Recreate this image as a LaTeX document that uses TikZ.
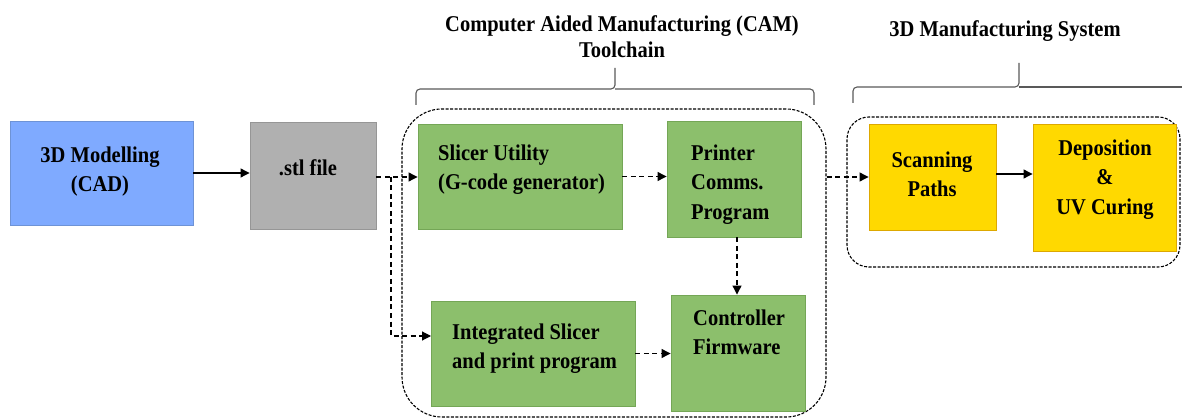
\documentclass[tikz,border=0pt]{standalone}
\usepackage{fontspec}
\setmainfont{Liberation Serif}
\usetikzlibrary{arrows.meta}

\definecolor{cadblue}{HTML}{7FAAFF}
\definecolor{cadedge}{HTML}{6E93D6}
\definecolor{stlgray}{HTML}{B0B0B0}
\definecolor{stledge}{HTML}{969696}
\definecolor{camgreen}{HTML}{8CBF6C}
\definecolor{camedge}{HTML}{74A656}
\definecolor{sysyellow}{HTML}{FFD900}
\definecolor{sysedge}{HTML}{DDA800}

% slightly tall, bold text blocks (centred or flush left)
\newcommand\tallc[1]{\scalebox{1}[1.1]{\begin{tabular}{@{}c@{}}#1\end{tabular}}}
\newcommand\talll[1]{\scalebox{1}[1.1]{\begin{tabular}{@{}l@{}}#1\end{tabular}}}

\tikzset{
  lbl/.style={font=\fontsize{20.5}{27.2}\selectfont\bfseries, inner sep=0pt, text=black},
  blockbox/.style={draw, line width=0.9pt, inner sep=0pt},
  cadbox/.style={blockbox, fill=cadblue, draw=cadedge},
  stlbox/.style={blockbox, fill=stlgray, draw=stledge},
  cambox/.style={blockbox, fill=camgreen, draw=camedge},
  sysbox/.style={blockbox, fill=sysyellow, draw=sysedge},
  groupbox/.style={draw=black, line width=1.1pt, dash pattern=on 3pt off 1.5pt, inner sep=0pt},
  flow/.style={line width=1.1pt, -{Triangle[length=9pt,width=9pt]}},
  dflow/.style={flow, dash pattern=on 5pt off 3.5pt},
  bracket/.style={draw=black!65, line width=1.1pt, rounded corners=4pt}
}

\begin{document}
\begin{tikzpicture}[x=1pt,y=-1pt]
\useasboundingbox (0,0) rectangle (1182,419);
\clip (0,0) rectangle (1182,419);

% group frames
\node[groupbox, rounded corners=40pt, minimum width=424pt, minimum height=308pt] (cam) at (614,263) {};
\node[groupbox, rounded corners=22pt, minimum width=333pt, minimum height=150pt] (sys) at (1013.5,192) {};

% CAD and file stage
\node[cadbox, minimum width=183pt, minimum height=104pt] (cad) at (101.5,173) {};
\node[lbl] (cadtxt) at (100,171) {\tallc{3D Modelling\\(CAD)}};
\node[stlbox, minimum width=126pt, minimum height=107pt] (stl) at (313,175.5) {};
\node[lbl] (stltxt) at (308,170) {\tallc{.stl file}};

% CAM toolchain blocks
\node[cambox, minimum width=204pt, minimum height=105pt] (slicer) at (520,176.5) {};
\node[lbl, anchor=west] (slicertxt) at (438,169) {\talll{Slicer Utility\\(G-code generator)}};
\node[cambox, minimum width=134pt, minimum height=116pt] (printer) at (734,179) {};
\node[lbl, anchor=west] (printertxt) at (691,184) {\talll{Printer\\Comms.\\Program}};
\node[cambox, minimum width=204pt, minimum height=105pt] (integ) at (533,353.5) {};
\node[lbl, anchor=west] (integtxt) at (452,348) {\talll{Integrated Slicer\\and print program}};
\node[cambox, minimum width=134pt, minimum height=116pt] (ctrl) at (738,353) {};
\node[lbl, anchor=west] (ctrltxt) at (693,334) {\talll{Controller\\Firmware}};

% manufacturing system blocks
\node[sysbox, minimum width=127pt, minimum height=106pt] (scan) at (932.5,177) {};
\node[lbl] (scantxt) at (932,176) {\tallc{Scanning\\Paths}};
\node[sysbox, minimum width=143pt, minimum height=127pt] (depo) at (1104.5,187.5) {};
\node[lbl] (depotxt) at (1105,179) {\tallc{Deposition\\\&\\UV Curing}};

% headings with brackets
\node[lbl] (camtitle) at (622,39) {\tallc{Computer Aided Manufacturing (CAM)\\[-3.6pt]Toolchain}};
\node[lbl] (systitle) at (1005,31) {\tallc{3D Manufacturing System}};

\coordinate (camL) at (416,105);
\coordinate (camM) at (615,89);
\coordinate (camR) at (814,105);
\coordinate (camT) at (615,68);
\draw[bracket] (camL) |- (camM) -- (camT);
\draw[bracket] (camR) |- (camM);

\coordinate (sysL) at (853,103);
\coordinate (sysM) at (1019,87);
\coordinate (sysR) at (1200,87);
\coordinate (sysT) at (1019,63);
\draw[bracket] (sysL) |- (sysM) -- (sysT);
\draw[bracket] (sysR) -- (sysM);

% connectors
\draw[flow] (cad.east) -- (cad.east -| stl.west);
\coordinate (split) at (391,177);
\coordinate (integin) at (431,336);
\draw[dflow] (split -| stl.east) -- (split -| slicer.west);
\draw[dflow] (split) |- (integin);
\draw[dflow] (slicer.east) -- (slicer.east -| printer.west);
\draw[dflow] (printer.south -| 737,0) -- (ctrl.north -| 737,0);
\draw[dflow] (integ.east) -- (integ.east -| ctrl.west);
\draw[dflow] (scan.west -| cam.east) -- (scan.west);
\draw[flow] (scan.east |- 0,174) -- (depo.west |- 0,174);
\end{tikzpicture}
\end{document}
